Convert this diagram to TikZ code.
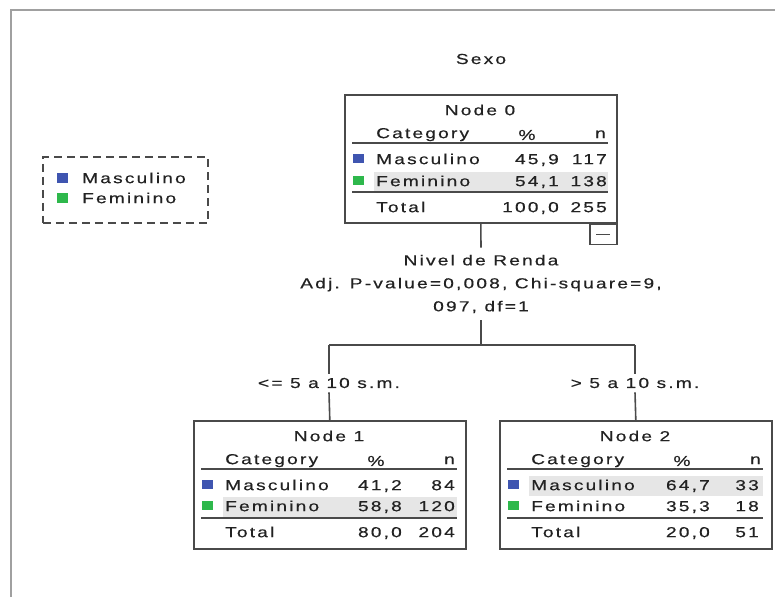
\documentclass[tikz,border=0pt]{standalone}
\usepackage{fontspec}
\newfontfamily\uifont[FakeStretch=1.32,LetterSpace=15,FakeBold=0.4]{Liberation Sans}
\usetikzlibrary{calc}

\definecolor{frameGrey}{HTML}{A0A0A0}
\definecolor{boxLine}{HTML}{4A4A4A}
\definecolor{mascBlue}{HTML}{3F55B0}
\definecolor{femGreen}{HTML}{2EB84C}
\definecolor{bandGrey}{HTML}{E6E6E6}
\definecolor{ink}{HTML}{222222}

\tikzset{
  txt/.style={inner sep=0pt, font=\uifont\fontsize{14.5}{17}\selectfont, text=ink},
  catbox/.style={draw=boxLine, line width=1.6pt, fill=white, minimum width=272pt,
    minimum height=128pt, inner sep=0pt},
  rule/.style={draw=boxLine, line width=1.3pt},
  conn/.style={draw=boxLine, line width=1.6pt},
  sq/.style={inner sep=0pt, minimum width=11pt, minimum height=9pt},
  band/.style={fill=bandGrey},
  legendbox/.style={draw=boxLine, line width=1.5pt, dash pattern=on 8pt off 5pt},
}

% frame, title, header and rules of one category table
% #1 name, #2 left x, #3 top y, #4 title, #5 shaded row offset
\newcommand\cattable[5]{%
  \node[catbox, anchor=north west] (#1) at (#2,#3) {};
  \fill[band] ($(#1.north west)+(30,#5)$) rectangle ($(#1.north west)+(264,#5+20)$);
  \node[txt] (#1-title) at ($(#1.north west)+(136,16)$) {#4};
  \node[txt, anchor=mid west] (#1-cat) at ($(#1.north west)+(32,42)$) {Category};
  \node[txt] (#1-pcth) at ($(#1.north west)+(183,41)$) {\%};
  \node[txt, anchor=mid east] (#1-nh) at ($(#1.north west)+(262,42)$) {n};
  \draw[rule] ($(#1.north west)+(8,49)$) -- ($(#1.north west)+(264,49)$);
  \draw[rule] ($(#1.north west)+(8,98)$) -- ($(#1.north west)+(264,98)$);
}
% one row of a category table
% #1 table name, #2 row name, #3 y offset, #4 label, #5 percent, #6 count,
% #7 right edge of percent column, #8 right edge of count column, #9 square colour
\newcommand\catrow[9]{%
  \node[txt, anchor=mid west] (#1-#2) at ($(#1.north west)+(32,#3+2)$) {#4};
  \node[txt, anchor=mid east] (#1-#2-pct) at ($(#1.north west)+(#7,#3+2)$) {#5};
  \node[txt, anchor=mid east] (#1-#2-n) at ($(#1.north west)+(#8,#3+2)$) {#6};
  \node[sq, fill=#9] (#1-#2-sq) at ($(#1.north west)+(14,#3-2)$) {};
}

\begin{document}
\begin{tikzpicture}[x=1pt, y=-1pt]
  \fill[white] (0,0) rectangle (775,597);
  \useasboundingbox (0,0) rectangle (775,597);

  % outer frame
  \draw[frameGrey, line width=2pt] (11,597) -- (11,10) -- (775,10);

  % dependent variable
  \node[txt] (dep) at (481,59) {Sexo};

  % legend
  \node[legendbox, minimum width=165pt, minimum height=66pt, anchor=north west] (legend) at (42,156) {};
  \node[sq, fill=mascBlue, minimum width=11pt, minimum height=10pt] (legM-sq) at (62,178) {};
  \node[txt, anchor=mid west] (legM) at (82,181) {Masculino};
  \node[sq, fill=femGreen, minimum width=11pt, minimum height=10pt] (legF-sq) at (62,198) {};
  \node[txt, anchor=mid west] (legF) at (82,201) {Feminino};

  % root node
  \cattable{n0}{344}{94}{Node 0}{78}
  \catrow{n0}{m}{66}{Masculino}{45,9}{117}{215}{263}{mascBlue}
  \catrow{n0}{f}{88}{Feminino}{54,1}{138}{215}{263}{femGreen}
  \catrow{n0}{t}{114}{Total}{100,0}{255}{215}{263}{none}
  \node[draw=boxLine, line width=1.5pt, fill=white, minimum width=27pt, minimum height=20pt,
    inner sep=0pt, anchor=north east] (collapse) at (n0.south east) {};
  \draw[boxLine, line width=1.3pt] ($(collapse.center)+(-7,0)$) -- ($(collapse.center)+(7,0)$);

  % split
  \node[txt, align=center, inner ysep=7pt, font=\uifont\fontsize{14.5}{23}\selectfont]
    (split) at (481,284) {Nivel de Renda\\Adj. P-value=0,008, Chi-square=9,\\097, df=1};
  \coordinate (bar) at (481,345);
  \coordinate (barL) at (329,345);
  \coordinate (barR) at (635,345);
  \node[txt, inner ysep=4pt] (lblL) at (329,383) {<= 5 a 10 s.m.};
  \node[txt, inner ysep=4pt] (lblR) at (635,383) {> 5 a 10 s.m.};

  % children
  \cattable{n1}{193}{420}{Node 1}{77}
  \catrow{n1}{m}{66}{Masculino}{41,2}{84}{209}{262}{mascBlue}
  \catrow{n1}{f}{87}{Feminino}{58,8}{120}{209}{262}{femGreen}
  \catrow{n1}{t}{113}{Total}{80,0}{204}{209}{262}{none}

  \cattable{n2}{499}{420}{Node 2}{56}
  \catrow{n2}{m}{66}{Masculino}{64,7}{33}{211}{260}{mascBlue}
  \catrow{n2}{f}{87}{Feminino}{35,3}{18}{211}{260}{femGreen}
  \catrow{n2}{t}{113}{Total}{20,0}{51}{211}{260}{none}

  % connectors
  \draw[conn] (collapse.north -| n0.south) -- (split.north);
  \draw[conn] (split.south) -- (bar);
  \draw[conn] (barL) -- (barR);
  \draw[conn] (barL) -- (lblL.north);
  \draw[conn] (lblL.south) -- (n1.north);
  \draw[conn] (barR) -- (lblR.north);
  \draw[conn] (lblR.south) -- (n2.north);
\end{tikzpicture}
\end{document}
